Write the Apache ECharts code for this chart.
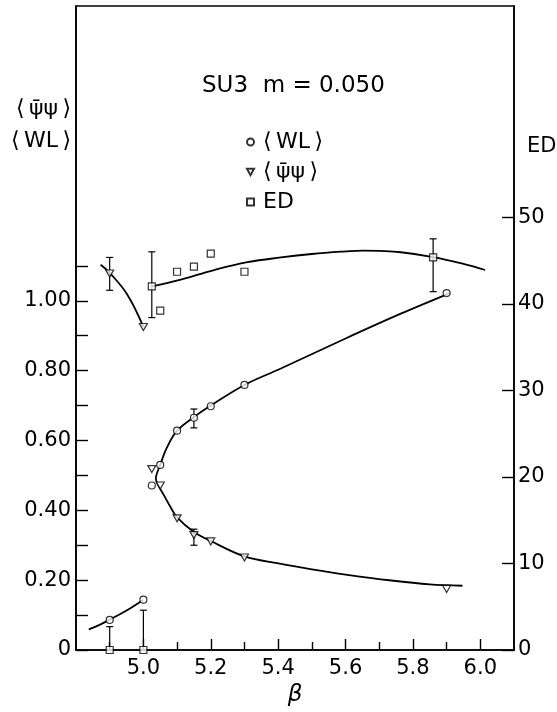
<!DOCTYPE html>
<html>
<head>
<meta charset="utf-8">
<script src="https://cdn.jsdelivr.net/npm/echarts@6/dist/echarts.min.js"></script>
<style>html,body{margin:0;padding:0;background:#fff;}#c{width:557px;height:712px;}</style>
</head>
<body>
<div id="c"></div>
<script>
// ---- data ----
const wlBeta  = [4.9, 5.0, 5.025, 5.05, 5.1, 5.15, 5.2, 5.3, 5.9];
const wlVal   = [0.086, 0.144, 0.471, 0.530, 0.628, 0.665, 0.698, 0.759, 1.022];
const pbpBeta = [4.9, 5.0, 5.025, 5.05, 5.1, 5.15, 5.2, 5.3, 5.9];
const pbpVal  = [1.078, 0.925, 0.518, 0.471, 0.377, 0.329, 0.311, 0.265, 0.175];
const edBeta  = [4.9, 5.0, 5.025, 5.05, 5.1, 5.15, 5.2, 5.3, 5.86];
const edVal   = [0, 0, 42.0, 39.2, 43.7, 44.3, 45.8, 43.7, 45.35];

// error bars: [beta, low, high]
const wlErr  = [[5.15, 0.636, 0.690]];
const pbpErr = [[4.9, 1.030, 1.124], [5.15, 0.300, 0.346]];
const edErr  = [[4.9, 0, 2.7], [5.0, 0, 4.6], [5.025, 38.4, 46.0], [5.86, 41.4, 47.5]];

// fitted curves
const wlLowBeta = [4.838, 4.87, 4.9, 4.95, 5.0];
const wlLowVal  = [0.059, 0.072, 0.087, 0.113, 0.144];
const pbpHighBeta = [4.873, 4.9, 4.952, 5.0];
const pbpHighVal  = [1.103, 1.080, 1.018, 0.925];
const cBeta = [5.91, 5.764, 5.6, 5.408, 5.3, 5.2, 5.15, 5.1, 5.07, 5.05, 5.037, 5.045, 5.06, 5.08, 5.1, 5.15, 5.2, 5.3, 5.405, 5.5, 5.6, 5.736, 5.85, 5.947];
const cVal  = [1.022, 0.963, 0.892, 0.806, 0.759, 0.700, 0.667, 0.628, 0.580, 0.530, 0.490, 0.470, 0.445, 0.410, 0.380, 0.338, 0.312, 0.268, 0.247, 0.231, 0.216, 0.199, 0.188, 0.184];
const edCurveBeta = [5.025, 5.111, 5.21, 5.309, 5.408, 5.5, 5.6, 5.65, 5.7, 5.764, 5.86, 5.95, 6.014];
const edCurveVal  = [42.0, 42.8, 43.9, 44.8, 45.35, 45.75, 46.05, 46.15, 46.1, 45.95, 45.4, 44.6, 43.9];

// ticks
const xMajor = [5.0, 5.2, 5.4, 5.6, 5.8, 6.0];
const xMinor = [4.9, 5.1, 5.3, 5.5, 5.7, 5.9];
const yLeftTicks  = [0, 0.1, 0.2, 0.3, 0.4, 0.5, 0.6, 0.7, 0.8, 0.9, 1.0, 1.1];
const yLeftLabels = [0, 0.2, 0.4, 0.6, 0.8, 1.0];
const yRightTicks = [0, 10, 20, 30, 40, 50];

const FONT = 'DejaVu Sans';
const zip = (a, b) => a.map((v, i) => [v, b[i]]);
const TRI = 'path://M0,0 L10,0 L5,9 Z';
const TS = '\u2009';

function errItem(params, api) {
  const x = api.value(0), lo = api.value(1), hi = api.value(2);
  const p1 = api.coord([x, lo]), p2 = api.coord([x, hi]);
  const w = 3.5, st = {stroke: '#000', lineWidth: 1.2};
  return {type: 'group', children: [
    {type: 'line', shape: {x1: p1[0], y1: p1[1], x2: p2[0], y2: p2[1]}, style: st},
    {type: 'line', shape: {x1: p1[0] - w, y1: p1[1], x2: p1[0] + w, y2: p1[1]}, style: st},
    {type: 'line', shape: {x1: p2[0] - w, y1: p2[1], x2: p2[0] + w, y2: p2[1]}, style: st}
  ]};
}

const chart = echarts.init(document.getElementById('c'), null, {renderer: 'canvas'});
const lineStyle = {color: '#000', width: 1.8};
const markStyle = {color: '#fff', borderColor: '#000', borderWidth: 1.2};
const axisTxt = {fontFamily: FONT, fontSize: 21, color: '#000'};
const WLN = '⟨' + TS + 'WL' + TS + '⟩';
const PBN = '⟨' + TS + 'ψ̄ψ' + TS + '⟩';

chart.setOption({
  animation: false,
  backgroundColor: '#fff',
  grid: {left: 76, right: 43, top: 6, bottom: 57, show: true, borderColor: '#000', borderWidth: 1.6, backgroundColor: 'transparent'},
  title: {text: 'SU3  m = 0.050', left: 197, top: 70, textStyle: {fontFamily: FONT, fontSize: 23, fontWeight: 'normal', color: '#000'}},
  legend: {
    data: [WLN, PBN, 'ED'], orient: 'vertical', left: 241, top: 126,
    itemWidth: 7, itemHeight: 7, itemGap: 8,
    textStyle: {fontFamily: FONT, fontSize: 22, color: '#000', padding: [0, 0, 0, 4]}
  },
  graphic: [
    {type: 'text', x: 71, y: 109, style: {text: PBN, font: '22px "DejaVu Sans"', fill: '#000', align: 'right', verticalAlign: 'middle'}},
    {type: 'text', x: 71, y: 141, style: {text: WLN, font: '22px "DejaVu Sans"', fill: '#000', align: 'right', verticalAlign: 'middle'}},
    {type: 'text', x: 527, y: 147, style: {text: 'ED', font: '21px "DejaVu Sans"', fill: '#000', align: 'left', verticalAlign: 'middle'}}
  ],
  xAxis: [
    {type: 'value', min: 4.8, max: 6.1, position: 'bottom',
     name: 'β', nameLocation: 'middle', nameGap: 34,
     nameTextStyle: {fontFamily: FONT, fontSize: 23, fontStyle: 'italic', color: '#000'},
     axisLine: {lineStyle: {color: '#000', width: 1.6}},
     axisTick: {inside: true, length: 11, lineStyle: {color: '#000', width: 1.4}, customValues: xMajor},
     axisLabel: {...axisTxt, margin: 8, customValues: xMajor, formatter: v => v.toFixed(1)},
     splitLine: {show: false}},
    {type: 'value', min: 4.8, max: 6.1, position: 'bottom',
     axisLine: {show: false},
     axisTick: {inside: true, length: 8, lineStyle: {color: '#000', width: 1.4}, customValues: xMinor},
     axisLabel: {show: false}, splitLine: {show: false}}
  ],
  yAxis: [
    {type: 'value', min: 0, max: 1.844, position: 'left',
     axisLine: {show: true, lineStyle: {color: '#000', width: 1.6}},
     axisTick: {show: true, inside: true, length: 12, lineStyle: {color: '#000', width: 1.4}, customValues: yLeftTicks},
     axisLabel: {...axisTxt, margin: 5, customValues: yLeftLabels, formatter: v => v === 0 ? '0' : v.toFixed(2)},
     splitLine: {show: false}},
    {type: 'value', min: 0, max: 74.4, position: 'right',
     axisLine: {show: true, lineStyle: {color: '#000', width: 1.6}},
     axisTick: {show: true, inside: true, length: 12, lineStyle: {color: '#000', width: 1.4}, customValues: yRightTicks},
     axisLabel: {...axisTxt, margin: 4, customValues: yRightTicks, formatter: v => String(v)},
     splitLine: {show: false}}
  ],
  series: [
    {type: 'line', name: 'wlLow', data: zip(wlLowBeta, wlLowVal), smooth: 0.4, symbol: 'none', lineStyle, z: 2},
    {type: 'line', name: 'pbpHigh', data: zip(pbpHighBeta, pbpHighVal), smooth: 0.4, symbol: 'none', lineStyle, z: 2},
    {type: 'line', name: 'cCurve', data: zip(cBeta, cVal), smooth: 0.35, symbol: 'none', lineStyle, z: 2},
    {type: 'line', name: 'edCurve', yAxisIndex: 1, data: zip(edCurveBeta, edCurveVal), smooth: 0.4, symbol: 'none', lineStyle, z: 2},
    {type: 'custom', name: 'wlErr', renderItem: errItem, data: wlErr, z: 3, encode: {x: 0, y: [1, 2]}},
    {type: 'custom', name: 'pbpErr', renderItem: errItem, data: pbpErr, z: 3, encode: {x: 0, y: [1, 2]}},
    {type: 'custom', name: 'edErr', yAxisIndex: 1, renderItem: errItem, data: edErr, z: 3, encode: {x: 0, y: [1, 2]}},
    {type: 'scatter', name: WLN, data: zip(wlBeta, wlVal), symbol: 'circle', symbolSize: 7, itemStyle: markStyle, z: 5},
    {type: 'scatter', name: PBN, data: zip(pbpBeta, pbpVal), symbol: TRI, symbolSize: [8, 7], itemStyle: markStyle, z: 5},
    {type: 'scatter', name: 'ED', yAxisIndex: 1, data: zip(edBeta, edVal), symbol: 'rect', symbolSize: 7, itemStyle: markStyle, z: 5}
  ]
});
</script>
</body>
</html>
